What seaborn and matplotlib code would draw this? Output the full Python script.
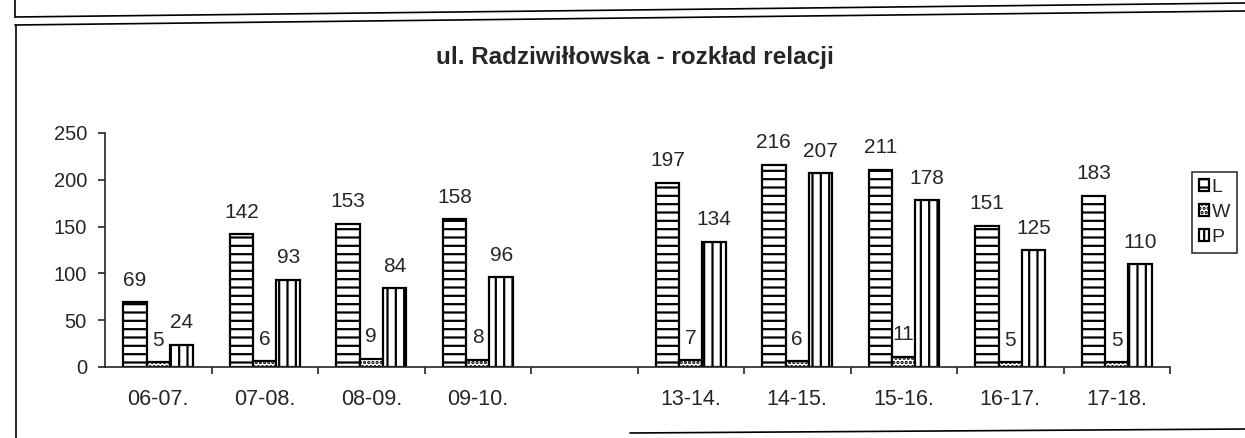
import matplotlib
matplotlib.use("Agg")
import matplotlib.pyplot as plt
from matplotlib.lines import Line2D
import numpy as np
import pandas as pd
import seaborn as sns


# 1 : Data

hours = ["06-07.", "07-08.", "08-09.", "09-10.", " ",
         "13-14.", "14-15.", "15-16.", "16-17.", "17-18."]
series_names = ["L", "W", "P"]
values_L = [69, 142, 153, 158, np.nan, 197, 216, 211, 151, 183]
values_W = [5, 6, 9, 8, np.nan, 7, 6, 11, 5, 5]
values_P = [24, 93, 84, 96, np.nan, 134, 207, 178, 125, 110]
y_ticks = [0, 50, 100, 150, 200, 250]

df = pd.DataFrame({
    "hour": hours * 3,
    "series": np.repeat(series_names, len(hours)),
    "value": values_L + values_W + values_P,
})


# 2 : Plotting

sns.set_style("ticks")
plt.rcParams["font.family"] = ["Liberation Sans", "DejaVu Sans"]
plt.rcParams["hatch.linewidth"] = 1.6

W, H = 1245, 438
fig = plt.figure(figsize=(W / 100, H / 100), dpi=100)
# axes box in pixels: x 105..1170, y 133..367
ax = fig.add_axes([105 / W, 1 - 367 / H, 1065 / W, 234 / H])

sns.barplot(data=df, x="hour", y="value", hue="series", order=hours,
            hue_order=series_names, palette=["white"] * 3, edgecolor="black",
            linewidth=1.6, width=0.66, gap=0, errorbar=None, legend=False, ax=ax)

# hatch patterns per series: horizontal lines, dots, vertical lines
hatches = ["--", "....", "||"]
for container, hatch in zip(ax.containers, hatches):
    for patch in container.patches:
        patch.set_hatch(hatch)
    ax.bar_label(container, padding=9, fontsize=15)

ax.set_ylim(0, 250)
ax.set_xlim(-0.5, len(hours) - 0.5)
ax.set_yticks(y_ticks)
ax.set_xlabel("")
ax.set_ylabel("")
sns.despine(ax=ax)
for side in ["left", "bottom"]:
    ax.spines[side].set_linewidth(1.2)

ax.tick_params(axis="y", labelsize=14.5, length=5, width=1.2, pad=8)
ax.tick_params(axis="x", which="major", labelsize=15.5, length=0, pad=15.5)
ax.set_xticks(np.arange(0.5, len(hours), 1.0), minor=True)
ax.tick_params(axis="x", which="minor", length=5, width=1.2, direction="out")

fig.text(635 / W, 1 - 64 / H, "ul. Radziwiłłowska - rozkład relacji",
         fontsize=17.5, fontweight="bold", ha="center", va="baseline")

# legend built from the hatched bars themselves
handles = [container.patches[0] for container in ax.containers]
leg = fig.legend(handles, series_names, loc="upper left",
                 bbox_to_anchor=(1192 / W, 1 - 172 / H), fontsize=14,
                 frameon=True, fancybox=False, edgecolor="black",
                 handlelength=0.5, handleheight=0.55, handletextpad=0.15,
                 labelspacing=0.42, borderpad=0.35, borderaxespad=0)
leg.get_frame().set_linewidth(1.2)

# scanned page frame lines (the scan is slightly tilted)
frame = dict(color="black", linewidth=1.2, transform=fig.transFigure)
fig.add_artist(Line2D([15 / W, 1], [1 - 17 / H, 1 - 3 / H], **frame))
fig.add_artist(Line2D([15 / W, 15 / W], [1, 1 - 17 / H], **frame))
fig.add_artist(Line2D([15 / W, 1], [1 - 25 / H, 1 - 11 / H], **frame))
fig.add_artist(Line2D([16 / W, 16 / W], [1 - 25 / H, 0], **frame))
fig.add_artist(Line2D([630 / W, 1], [1 - 433 / H, 1 - 429 / H], **frame))

fig.savefig("out.png", dpi=100)
